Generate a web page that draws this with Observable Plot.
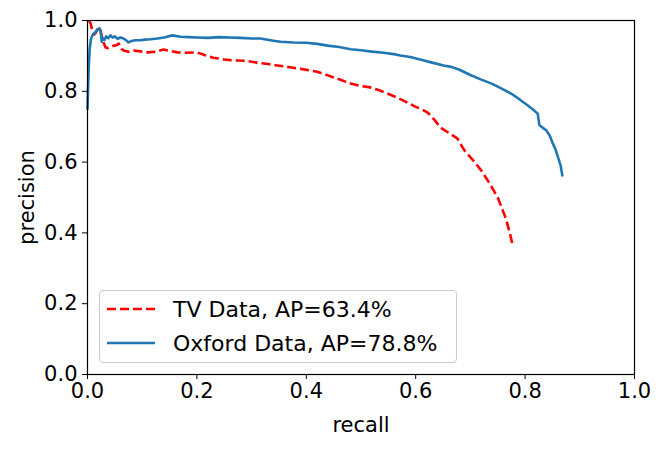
<!DOCTYPE html>
<html><head><meta charset="utf-8">
<script src="https://cdn.jsdelivr.net/npm/d3@7"></script>
<script src="https://cdn.jsdelivr.net/npm/@observablehq/plot@0.6"></script>
<style>
body{margin:0;background:#fff;}
#wrap{position:relative;width:665px;height:449px;font-family:"DejaVu Sans",sans-serif;color:#000;}
#legend{position:absolute;left:99px;top:290px;width:358px;height:73px;box-sizing:border-box;border:1.3px solid #cccccc;border-radius:4px;background:rgba(255,255,255,0.8);}
#legend svg{position:absolute;left:7px;}
#legend span{position:absolute;left:73px;font-size:22px;line-height:22px;white-space:nowrap;}
</style>
</head><body>
<div id="wrap"></div>
<script>
// Oxford Data (blue, solid)
const oxRecall = [0, 0.002, 0.004, 0.006, 0.008, 0.010, 0.013, 0.016, 0.019, 0.022, 0.024, 0.026, 0.028, 0.031, 0.034, 0.038, 0.042, 0.046, 0.050, 0.055, 0.060, 0.066, 0.070, 0.075, 0.080, 0.088, 0.097, 0.105, 0.115, 0.128, 0.140, 0.155, 0.17, 0.185, 0.2, 0.22, 0.24, 0.261, 0.28, 0.3, 0.316, 0.34, 0.353, 0.377, 0.40, 0.42, 0.439, 0.46, 0.481, 0.50, 0.52, 0.541, 0.56, 0.572, 0.59, 0.61, 0.63, 0.651, 0.665, 0.68, 0.70, 0.72, 0.74, 0.759, 0.775, 0.79, 0.805, 0.815, 0.823, 0.826, 0.83, 0.839, 0.845, 0.85, 0.855, 0.86, 0.865, 0.868];
const oxPrecision = [0.75, 0.86, 0.92, 0.945, 0.955, 0.96, 0.965, 0.97, 0.975, 0.978, 0.97, 0.94, 0.95, 0.945, 0.955, 0.95, 0.958, 0.952, 0.955, 0.948, 0.952, 0.949, 0.945, 0.938, 0.942, 0.944, 0.944, 0.946, 0.947, 0.949, 0.952, 0.958, 0.954, 0.953, 0.952, 0.951, 0.953, 0.952, 0.951, 0.949, 0.949, 0.943, 0.94, 0.938, 0.937, 0.934, 0.929, 0.925, 0.919, 0.916, 0.912, 0.909, 0.905, 0.901, 0.897, 0.889, 0.881, 0.873, 0.869, 0.861, 0.846, 0.833, 0.821, 0.806, 0.793, 0.777, 0.76, 0.748, 0.737, 0.705, 0.700, 0.689, 0.675, 0.655, 0.638, 0.615, 0.59, 0.562];
// TV Data (red, dashed)
const tvRecall = [0.003, 0.006, 0.009, 0.012, 0.015, 0.018, 0.021, 0.024, 0.027, 0.030, 0.033, 0.038, 0.043, 0.048, 0.053, 0.057, 0.062, 0.066, 0.075, 0.085, 0.095, 0.11, 0.125, 0.139, 0.152, 0.165, 0.18, 0.2, 0.215, 0.23, 0.25, 0.267, 0.29, 0.31, 0.33, 0.347, 0.37, 0.395, 0.42, 0.439, 0.46, 0.481, 0.50, 0.517, 0.535, 0.548, 0.565, 0.585, 0.60, 0.609, 0.622, 0.634, 0.645, 0.66, 0.676, 0.689, 0.705, 0.72, 0.735, 0.75, 0.757, 0.765, 0.772, 0.777];
const tvPrecision = [1.0, 0.99, 0.97, 0.96, 0.965, 0.975, 0.98, 0.97, 0.95, 0.935, 0.924, 0.922, 0.926, 0.929, 0.93, 0.935, 0.92, 0.915, 0.912, 0.915, 0.913, 0.91, 0.912, 0.918, 0.914, 0.91, 0.909, 0.91, 0.902, 0.895, 0.89, 0.887, 0.886, 0.881, 0.877, 0.873, 0.868, 0.862, 0.855, 0.845, 0.834, 0.822, 0.815, 0.811, 0.802, 0.794, 0.783, 0.768, 0.756, 0.751, 0.74, 0.72, 0.698, 0.683, 0.667, 0.633, 0.605, 0.576, 0.54, 0.5, 0.472, 0.44, 0.40, 0.367];
const xTicks = [0, 0.2, 0.4, 0.6, 0.8, 1.0];
const yTicks = [0, 0.2, 0.4, 0.6, 0.8, 1.0];
const seriesNames = ["TV Data, AP=63.4%", "Oxford Data, AP=78.8%"];
const seriesColors = ["#ff0000", "#1f77b4"];

const ox = oxRecall.map((r, i) => ({r, p: oxPrecision[i]}));
const tv = tvRecall.map((r, i) => ({r, p: tvPrecision[i]}));
const fmt = d3.format(".1f");

const chart = Plot.plot({
  width: 665, height: 449,
  marginLeft: 87, marginRight: 31, marginTop: 20, marginBottom: 75,
  style: {fontFamily: '"DejaVu Sans", sans-serif', fontSize: "21px", color: "#000", background: "#fff", overflow: "visible"},
  x: {domain: [0, 1]},
  y: {domain: [0, 1]},
  marks: [
    Plot.line(tv, {x: "r", y: "p", stroke: seriesColors[0], strokeWidth: 2.6, strokeDasharray: "9,4", strokeLinecap: "butt"}),
    Plot.line(ox, {x: "r", y: "p", stroke: seriesColors[1], strokeWidth: 2.6}),
    Plot.frame({stroke: "#000", strokeWidth: 1.2}),
    Plot.axisX({ticks: xTicks, tickFormat: fmt, tickSize: 5, tickPadding: 4, label: "recall", labelAnchor: "center", labelArrow: "none", labelOffset: 57, fontSize: 21}),
    Plot.axisY({ticks: yTicks, tickFormat: fmt, tickSize: 5, tickPadding: 5, label: "precision", labelAnchor: "center", labelArrow: "none", labelOffset: 68, fontSize: 21})
  ]
});
const wrap = document.getElementById("wrap");
wrap.appendChild(chart);

const legend = document.createElement("div");
legend.id = "legend";
const rows = [18, 52];
seriesNames.forEach((name, i) => {
  const s = document.createElementNS("http://www.w3.org/2000/svg", "svg");
  s.setAttribute("width", 50); s.setAttribute("height", 6);
  s.style.top = (rows[i] - 3) + "px";
  const ln = document.createElementNS("http://www.w3.org/2000/svg", "line");
  ln.setAttribute("x1", 0); ln.setAttribute("x2", 48); ln.setAttribute("y1", 3); ln.setAttribute("y2", 3);
  ln.setAttribute("stroke", seriesColors[i]); ln.setAttribute("stroke-width", 2.6);
  if (i === 0) ln.setAttribute("stroke-dasharray", "9,4");
  s.appendChild(ln);
  legend.appendChild(s);
  const sp = document.createElement("span");
  sp.textContent = name;
  sp.style.top = (rows[i] - 10) + "px";
  legend.appendChild(sp);
});
wrap.appendChild(legend);
</script>
</body></html>
